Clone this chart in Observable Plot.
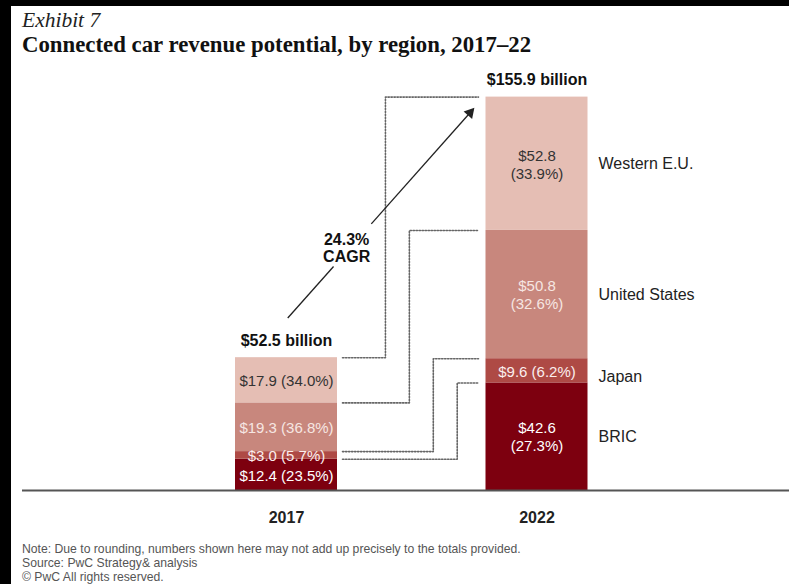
<!DOCTYPE html>
<html><head><meta charset="utf-8">
<script src="https://cdn.jsdelivr.net/npm/d3@7"></script>
<script src="https://cdn.jsdelivr.net/npm/@observablehq/plot@0.6"></script>
<style>
html,body{margin:0;padding:0;background:#000;width:789px;height:584px;overflow:hidden;position:relative;}
#page{position:absolute;left:11px;top:6px;width:778px;height:578px;background:#fff;}
.t{position:absolute;white-space:nowrap;}
#kicker{left:22px;top:8px;font:italic 21.5px "Liberation Serif",serif;color:#222;line-height:24px;}
#title{left:22px;top:32px;font:bold 22.8px "Liberation Serif",serif;color:#111;line-height:26px;}
#chart{position:absolute;left:0;top:55px;}
#notes{left:22px;top:543px;font:12.2px "Liberation Sans",Arial,sans-serif;color:#555;line-height:13.8px;}
</style></head>
<body>
<div id="page"></div>
<div class="t" id="kicker">Exhibit 7</div>
<div class="t" id="title">Connected car revenue potential, by region, 2017–22</div>
<div id="chart"></div>
<div class="t" id="notes"></div>
<script>
// ---- data ----
const years = ["2017", "2022"];
const regions = ["BRIC", "Japan", "United States", "Western E.U."];
const values2017 = [12.4, 3.0, 19.3, 17.9];
const values2022 = [42.6, 9.6, 50.8, 52.8];
const shares2017 = [23.5, 5.7, 36.8, 34.0];
const shares2022 = [27.3, 6.2, 32.6, 33.9];
const totals = [52.5, 155.9];
const totalLabels = ["$52.5 billion", "$155.9 billion"];
const cagrLabel = "24.3%\nCAGR";
const notes = [
  "Note: Due to rounding, numbers shown here may not add up precisely to the totals provided.",
  "Source: PwC Strategy& analysis",
  "© PwC All rights reserved."
];

// ---- styles ----
const fills = ["#7d000f", "#ae4a45", "#c8877d", "#e5beb4"];
const inkColors = ["#ffffff", "#fbeeee", "#f6e6e2", "#333333"];

document.getElementById("notes").innerHTML = notes.join("<br>");

// ---- build rows ----
const seriesVals = [values2017, values2022];
const seriesShares = [shares2017, shares2022];
const rows = [];
years.forEach((yr, xi) => {
  let cum = 0;
  regions.forEach((r, ri) => {
    const v = seriesVals[xi][ri], s = seriesShares[xi][ri];
    const y1 = cum, y2 = cum + v;
    cum = y2;
    const label = v > 20 ? `$${v.toFixed(1)}\n(${s.toFixed(1)}%)` : `$${v.toFixed(1)} (${s.toFixed(1)}%)`;
    rows.push({year: yr, xi, region: r, ri, value: v, share: s, y1, y2, mid: (y1 + y2) / 2, label});
  });
});

// geometry (in x-units: 1 unit = distance between bar centers)
const hw = 0.2036;          // half bar width
const xs = hw + 0.02;       // connector start
const xe = 1 - hw - 0.03;   // connector end
const xv0 = 0.395, xvStep = 0.0955;

const conn = [];
regions.forEach((r, ri) => {
  const a = rows.find(d => d.xi === 0 && d.ri === ri).y2;
  const b = rows.find(d => d.xi === 1 && d.ri === ri).y2;
  const xv = xv0 + (regions.length - 1 - ri) * xvStep;
  conn.push({r, x: xs, y: a}, {r, x: xv, y: a}, {r, x: xv, y: b}, {r, x: xe, y: b});
});

const k = 2.525, H = 485, mt = 10, mb = 50;
const xDomain = [-1.0539, 2.008];
const pxPerX = (789 - 22) / (xDomain[1] - xDomain[0]);

// CAGR arrow
const A = {x: 0.005, y: totals[0] + 15.8};
const B = {x: 1 - hw - 0.045, y: totals[1] - 4.2};
const lerp = t => ({x: A.x + (B.x - A.x) * t, y: A.y + (B.y - A.y) * t});
const p1 = lerp(0.245), p2 = lerp(0.447), pt = lerp(0.315), ph = lerp(0.975);
const angle = Math.atan2((B.x - A.x) * pxPerX, (B.y - A.y) * k) * 180 / Math.PI;

const right = rows.filter(d => d.xi === 1);
const chart = Plot.plot({
  width: 789, height: H,
  marginLeft: 22, marginRight: 0, marginTop: mt, marginBottom: mb,
  x: {type: "linear", domain: xDomain, axis: null},
  y: {domain: [0, (H - mt - mb) / k], axis: null},
  style: {fontFamily: '"Liberation Sans", Arial, sans-serif', background: "transparent", overflow: "visible"},
  marks: [
    Plot.rect(rows, {x1: d => d.xi - hw, x2: d => d.xi + hw, y1: "y1", y2: "y2", fill: d => fills[d.ri]}),
    Plot.text(rows, {x: "xi", y: "mid", text: "label", fill: d => inkColors[d.ri], fontSize: 15, lineHeight: 1.2}),
    Plot.text(right.filter(d => d.value >= 20), {x: 1 + hw + 0.042, y: "mid", text: "region", textAnchor: "start", fill: "#222", fontSize: 16}),
    Plot.text(right.filter(d => d.value < 20), {x: 1 + hw + 0.042, y: "mid", dy: 6, text: "region", textAnchor: "start", fill: "#222", fontSize: 16}),
    Plot.text(totals, {x: (d, i) => i, y: d => d, text: (d, i) => totalLabels[i], dy: -17, fontWeight: "bold", fontSize: 16, fill: "#111"}),
    Plot.line(conn, {x: "x", y: "y", z: "r", stroke: "#666", strokeWidth: 1.6, strokeDasharray: "1.4 1.6"}),
    Plot.link([0], {x1: A.x, y1: A.y, x2: p1.x, y2: p1.y, stroke: "#222", strokeWidth: 1.3}),
    Plot.link([0], {x1: p2.x, y1: p2.y, x2: ph.x, y2: ph.y, stroke: "#222", strokeWidth: 1.3}),
    Plot.dot([0], {x: ph.x, y: ph.y, symbol: "triangle", r: 4.2, rotate: angle, fill: "#222", stroke: null}),
    Plot.text([cagrLabel], {x: pt.x, y: pt.y, dy: -4, text: d => d, fontWeight: "bold", fontSize: 16, fill: "#111", lineHeight: 1.1}),
    Plot.ruleY([0], {stroke: "#555", strokeWidth: 2}),
    Plot.text(years, {x: (d, i) => i, y: 0, text: d => d, dy: 27, fontWeight: "bold", fontSize: 16, fill: "#222"})
  ]
});
document.getElementById("chart").appendChild(chart);
</script>
</body></html>
